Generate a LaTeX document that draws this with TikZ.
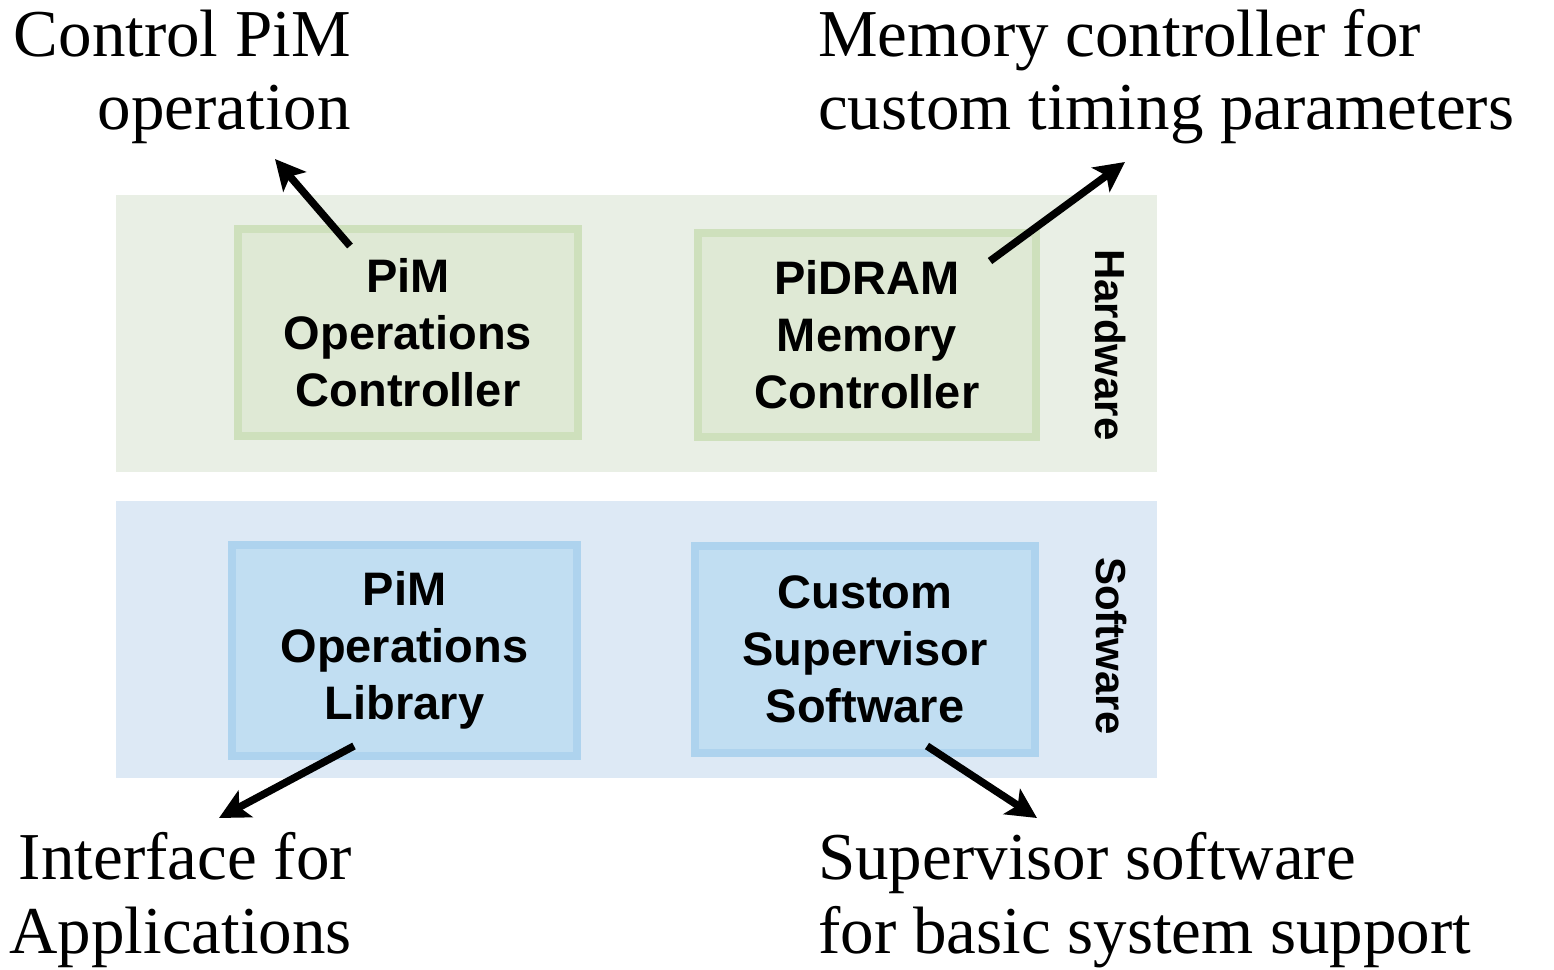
\documentclass[tikz,border=0pt]{standalone}
\usepackage{fontspec}
\setmainfont{Liberation Serif}
\newfontfamily\boxfont{Liberation Sans}
\usetikzlibrary{arrows.meta}
\definecolor{hwband}{RGB}{233,239,229}
\definecolor{hwfill}{RGB}{223,233,213}
\definecolor{hwborder}{RGB}{206,224,188}
\definecolor{swband}{RGB}{221,233,245}
\definecolor{swfill}{RGB}{193,222,242}
\definecolor{swborder}{RGB}{174,211,238}
\begin{document}
\begin{tikzpicture}[x=1pt,y=-1pt,
  blockbox/.style={line width=8pt, inner sep=0pt, align=center,
    font=\boxfont\bfseries\fontsize{47}{57}\selectfont},
  hwbox/.style={blockbox, draw=hwborder, fill=hwfill},
  swbox/.style={blockbox, draw=swborder, fill=swfill},
  layerlabel/.style={rotate=-90, inner sep=0pt, font=\boxfont\bfseries\fontsize{42}{50}\selectfont},
  note/.style={inner sep=0pt, font=\fontsize{67}{74}\selectfont},
  callout/.style={line width=7.5pt, -{Stealth[length=30pt,width=30pt,inset=7pt]}}]
\useasboundingbox (0,0) rectangle (1554,969);

% layer bands
\fill[hwband] (116,195) rectangle (1157,472);
\fill[swband] (116,501) rectangle (1157,778);

% blocks
\node[hwbox, minimum width=340pt, minimum height=207pt] (poc) at (408,332.5) {PiM\\Operations\\Controller};
\node[hwbox, minimum width=338pt, minimum height=204pt] (pmc) at (867,335) {PiDRAM\\Memory\\Controller};
\node[swbox, minimum width=345pt, minimum height=211pt] (pol) at (404.5,650.5) {PiM\\Operations\\Library};
\node[swbox, minimum width=340pt, minimum height=207pt] (css) at (865,649.5) {Custom\\Supervisor\\Software};

% layer labels
\node[layerlabel] (hw) at (1110,345) {Hardware};
\node[layerlabel] (sw) at (1111,646) {Software};

% annotations
\node[note, anchor=base east] (ctlA) at (351,56) {Control PiM};
\node[note, anchor=base east] (ctlB) at (351,129) {operation};
\node[note, anchor=base west] (memA) at (818,56) {Memory controller for};
\node[note, anchor=base west] (memB) at (818,129) {custom timing parameters};
\node[note, anchor=base east] (ifA) at (352,879) {Interface for};
\node[note, anchor=base east] (ifB) at (352,953) {Applications};
\node[note, anchor=base west] (supA) at (818,879) {Supervisor software};
\node[note, anchor=base west] (supB) at (818,953) {for basic system support};

% connector ends
\coordinate (t1) at (350,246);
\coordinate (h1) at (275,159);
\coordinate (t2) at (990,261);
\coordinate (h2) at (1125,162);
\coordinate (t3) at (354,746);
\coordinate (h3) at (219,818);
\coordinate (t4) at (927,746);
\coordinate (h4) at (1037,818);

\draw[callout] (t1) -- (h1);
\draw[callout] (t2) -- (h2);
\draw[callout] (t3) -- (h3);
\draw[callout] (t4) -- (h4);
\end{tikzpicture}
\end{document}
